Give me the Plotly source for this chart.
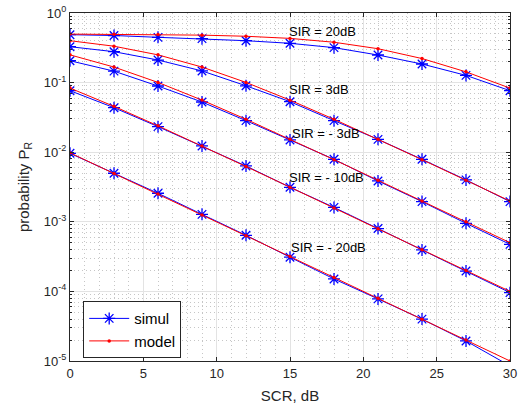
import math
import plotly.graph_objects as go

# SCR sweep (dB)
scr_db = [0, 3, 6, 9, 12, 15, 18, 21, 24, 27, 30]

# Simulated probability P_R for each SIR
simul_sir20 = [0.488, 0.475, 0.447, 0.428, 0.400, 0.367, 0.318, 0.249, 0.185, 0.127, 0.0765]
simul_sir3 = [0.328, 0.278, 0.211, 0.147, 0.090, 0.0532, 0.0284, 0.0153, 0.0079, 0.0040, 0.00195]
simul_sirm3 = [0.206, 0.146, 0.0893, 0.0526, 0.0284, 0.0150, 0.0079, 0.00386, 0.00195, 0.00095, 0.000474]
simul_sirm10 = [0.0765, 0.0436, 0.0233, 0.0123, 0.00634, 0.00313, 0.00161, 0.00080, 0.000394, 0.000196, 0.000096]
simul_sirm20 = [0.00964, 0.00498, 0.00257, 0.00128, 0.00064, 0.00031, 0.000151, 0.000078, 0.000040, 0.0000194, 0.0000085]

# Model probability P_R for each SIR
model_sir20 = [0.4975, 0.4951, 0.4902, 0.4809, 0.4633, 0.4317, 0.3801, 0.3068, 0.2216, 0.1426, 0.0833]
model_sir3 = [0.3998, 0.3333, 0.2503, 0.1672, 0.1006, 0.0560, 0.02974, 0.01536, 0.007818, 0.003949, 0.001987]
model_sirm3 = [0.2503, 0.1672, 0.1006, 0.05603, 0.02974, 0.01536, 0.00782, 0.00395, 0.001987, 0.000998, 0.000501]
model_sirm10 = [0.0833, 0.04556, 0.02392, 0.01228, 0.00623, 0.003143, 0.00158, 0.000793, 0.000398, 0.0001994, 0.0001]
model_sirm20 = [0.0098, 0.004963, 0.0025, 0.001256, 0.00063, 0.000316, 0.0001585, 0.0000794, 0.0000398, 0.00001995, 0.0000100]

simul_sets = [simul_sir20, simul_sir3, simul_sirm3, simul_sirm10, simul_sirm20]
model_sets = [model_sir20, model_sir3, model_sirm3, model_sirm10, model_sirm20]

# Curve labels and their positions (x in dB, y as probability)
sir_labels = ["SIR = 20dB", "SIR = 3dB", "SIR = - 3dB", "SIR = - 10dB", "SIR = - 20dB"]
label_x = [14.8, 14.8, 15.0, 14.8, 14.9]
label_y = [0.54, 0.080, 0.0187, 0.0044, 0.000425]

y_tick_vals = [1e-5, 1e-4, 1e-3, 1e-2, 1e-1, 1e0]
y_tick_text = ["10<sup>-5</sup>", "10<sup>-4</sup>", "10<sup>-3</sup>",
               "10<sup>-2</sup>", "10<sup>-1</sup>", "10<sup>0</sup>"]
y_minor_vals = [m * 10.0 ** e for e in range(-5, 0) for m in range(2, 10)]

BLUE = "#0000ff"
RED = "#ff0000"
AXIS = "#262626"
GRID = "#e3e3e3"
MINOR_GRID = "#c6c6c6"
FONT = "Liberation Sans, Arial, sans-serif"

fig = go.Figure()

for i, (sim, mod) in enumerate(zip(simul_sets, model_sets)):
    fig.add_trace(go.Scatter(
        x=scr_db, y=sim, mode="lines+markers", name="simul",
        line=dict(color=BLUE, width=1),
        marker=dict(symbol="asterisk-open", size=10, color=BLUE,
                    line=dict(color=BLUE, width=1.3)),
        showlegend=(i == 0), legendrank=1,
    ))
    fig.add_trace(go.Scatter(
        x=scr_db, y=mod, mode="lines+markers", name="model",
        line=dict(color=RED, width=1),
        marker=dict(symbol="circle", size=3.5, color=RED),
        showlegend=(i == 0), legendrank=2,
    ))

# annotation y on a log axis is given in log10 units
for text, lx, ly in zip(sir_labels, label_x, label_y):
    fig.add_annotation(x=lx, y=math.log10(ly), yref="y", xref="x", text=text,
                       showarrow=False, xanchor="left", yanchor="middle",
                       font=dict(family=FONT, size=13, color="black"))

fig.update_layout(
    width=519, height=405,
    margin=dict(l=70, r=9, t=13, b=44),
    paper_bgcolor="white", plot_bgcolor="white",
    font=dict(family=FONT, size=13, color=AXIS),
    legend=dict(x=0.03, y=0.172, xanchor="left", yanchor="top",
                bgcolor="white", bordercolor=AXIS, borderwidth=1,
                font=dict(family=FONT, size=15, color="black"),
                tracegroupgap=0, itemwidth=40),
    xaxis=dict(
        range=[0, 30], tickvals=[0, 5, 10, 15, 20, 25, 30],
        automargin=False,
        showline=True, linecolor=AXIS, linewidth=1, mirror="allticks",
        ticks="inside", ticklen=4, tickcolor=AXIS,
        showgrid=True, gridcolor=GRID, gridwidth=1,
        zeroline=False,
        minor=dict(dtick=1, showgrid=True, gridcolor=MINOR_GRID,
                   griddash="1px,3px", gridwidth=1, ticks=""),
        title=dict(text="SCR, dB", font=dict(family=FONT, size=15, color=AXIS),
                   standoff=10),
        tickfont=dict(family=FONT, size=13, color=AXIS),
    ),
    yaxis=dict(
        type="log", range=[-5, 0],
        automargin=False,
        tickmode="array", tickvals=y_tick_vals, ticktext=y_tick_text,
        showline=True, linecolor=AXIS, linewidth=1, mirror="allticks",
        ticks="inside", ticklen=4, tickcolor=AXIS,
        showgrid=True, gridcolor=GRID, gridwidth=1,
        zeroline=False,
        minor=dict(tickmode="array", tickvals=y_minor_vals, ticks="inside",
                   ticklen=2, tickcolor=AXIS, showgrid=True,
                   gridcolor=MINOR_GRID, griddash="1px,3px", gridwidth=1),
        title=dict(text="probability P<sub>R</sub>",
                   font=dict(family=FONT, size=15, color=AXIS), standoff=10),
        tickfont=dict(family=FONT, size=13, color=AXIS),
    ),
)

fig.write_html("out.html")
